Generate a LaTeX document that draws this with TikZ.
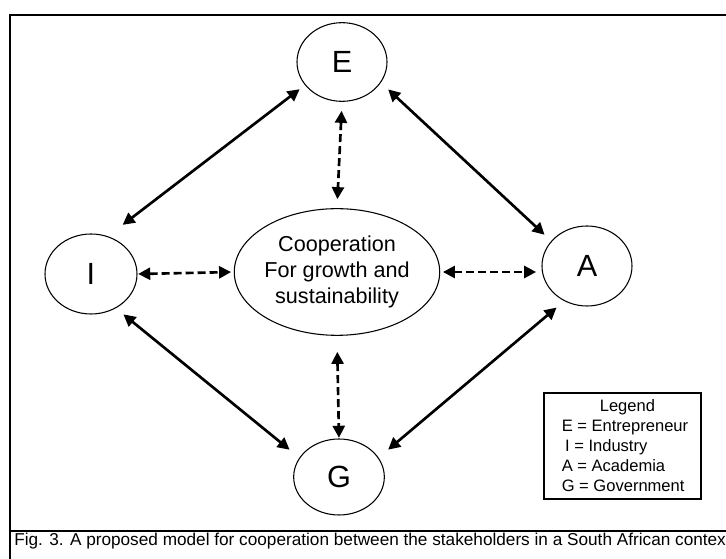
\documentclass[tikz,border=0pt]{standalone}
\usepackage{fontspec}
\setmainfont{Liberation Sans}
\usetikzlibrary{arrows.meta,shapes.geometric}

\begin{document}
\begin{tikzpicture}[
    x=0.75pt,
    y=-0.75pt,
    >={Triangle[length=9pt,width=9pt]},
    actor/.style={
        draw,
        ellipse,
        line width=0.8pt,
        inner sep=0pt,
        font=\fontsize{23}{27}\selectfont
    },
    hubellipse/.style={
        draw,
        ellipse,
        line width=0.8pt,
        inner sep=0pt,
        align=center,
        minimum width=145.5pt,
        minimum height=95pt,
        font=\fontsize{16.2}{19.2}\selectfont
    },
    linkarrow/.style={<->, line width=2pt},
    dasharrow/.style={<->, line width=2pt, dash pattern=on 6pt off 3pt},
    legendbox/.style={
        draw,
        line width=0.8pt,
        align=left,
        inner sep=0pt,
        minimum width=117.75pt,
        minimum height=79.5pt,
        font=\fontsize{12.4}{15}\selectfont
    },
    framebox/.style={line width=1.1pt}
]

% Fixed picture size
\clip (0,0) rectangle (726,559);

% Outer frame and caption rule
\draw[framebox] (10,15) rectangle (745,590);
\draw[framebox] (10,531) -- (745,531);

% Stakeholders
\node[actor, minimum width=67.5pt, minimum height=59pt] (E) at (342,62) {E};
\node[actor, minimum width=69pt, minimum height=60pt] (I) at (91,274) {I};
\node[actor, minimum width=67.5pt, minimum height=60pt] (A) at (587,266) {A};
\node[actor, minimum width=68pt, minimum height=57pt] (G) at (339,477) {G};

% Cooperation in the middle
\node[hubellipse] (coop) at (337,272) {Cooperation\\For growth and\\sustainability};

% Outer links
\draw[linkarrow, shorten <=5pt, shorten >=14pt] (E.212) -- (I.66);
\draw[linkarrow, shorten <=7.4pt, shorten >=6.8pt] (E.332) -- (A.145);
\draw[linkarrow, shorten <=7.3pt, shorten >=9.4pt] (I.306) -- (G.154);
\draw[linkarrow, shorten <=9.3pt, shorten >=7.5pt] (G.26) -- (A.237);

% Links to the centre
\draw[dasharrow, shorten <=6.75pt, shorten >=6.75pt] (E.south) -- (coop.north);
\draw[dasharrow, shorten <=0.5pt, shorten >=2pt] (I.east) -- (coop.west);
\draw[dasharrow, shorten <=2pt, shorten >=4pt] (coop.east) -- (coop.east -| A.west);
\draw[dasharrow, shorten <=12pt, shorten >=0.5pt] (coop.south) -- (G.north);

% Legend
\node[legendbox] (legend) at (622.5,446) {\hspace*{2.6em}Legend\\\hspace*{0.3em}E = Entrepreneur\\\hspace*{0.5em}I = Industry\\\hspace*{0.3em}A = Academia\\\hspace*{0.3em}G = Government};

% Caption
\node[anchor=base west, inner sep=0pt, font=\fontsize{12.9}{15}\selectfont] (caption) at (14,546)
    {Fig. 3. A proposed model for cooperation between the stakeholders in a South African context};

\end{tikzpicture}
\end{document}
